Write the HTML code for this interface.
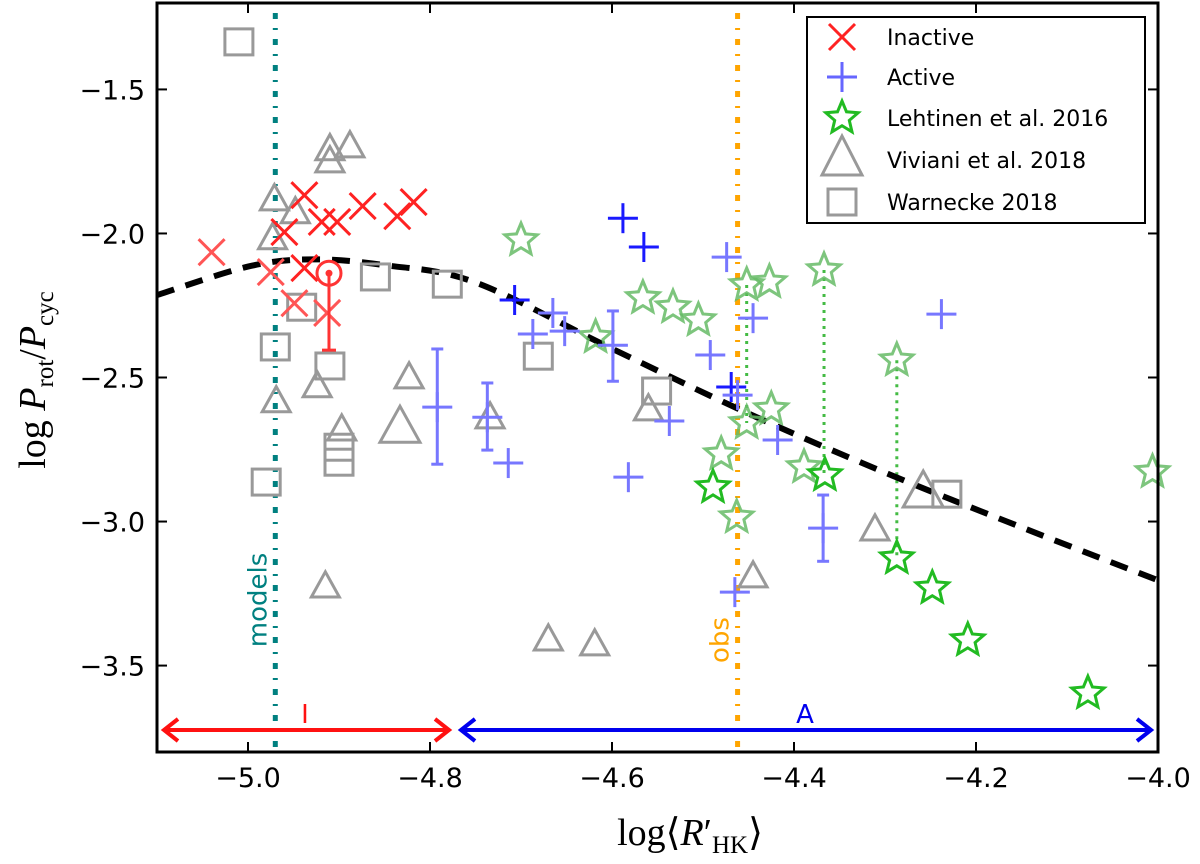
<!DOCTYPE html>
<html><head><meta charset="utf-8"><style>
body{margin:0;background:#fff}
svg{display:block;font-family:"DejaVu Sans","Liberation Sans",sans-serif}
</style></head><body>
<svg id="chart" width="1200" height="864" viewBox="0 0 1200 864">
<g id="marks"></g>
</svg>
<script>
const xMin=-5.1,xMax=-4.0,yMin=-3.8,yMax=-1.2;
const L=157,R=1158,T=3,B=752;
const xTicks=[-5.0,-4.8,-4.6,-4.4,-4.2,-4.0];
const xTickLabels=["\u22125.0","\u22124.8","\u22124.6","\u22124.4","\u22124.2","\u22124.0"];
const yTicks=[-1.5,-2.0,-2.5,-3.0,-3.5];
const yTickLabels=["\u22121.5","\u22122.0","\u22122.5","\u22123.0","\u22123.5"];
// Inactive
const inactX=[-5.040,-4.938,-4.960,-4.919,-4.902,-4.874,-4.836,-4.818,-4.975,-4.938,-4.949,-4.913];
const inactY=[-2.065,-1.867,-1.995,-1.960,-1.960,-1.905,-1.940,-1.891,-2.134,-2.120,-2.242,-2.276];
const inactLight=[1,0,0,0,0,0,0,0,1,0,1,1];
const sunX=-4.911,sunY=-2.138,sunErrLo=-2.405;
// Active
const actX=[-4.588,-4.565,-4.474,-4.707,-4.665,-4.687,-4.652,-4.599,-4.492,-4.238,-4.445,-4.469,-4.462,-4.537,-4.737,-4.714,-4.582,-4.418,-4.368,-4.465,-4.792];
const actY=[-1.947,-2.047,-2.082,-2.231,-2.276,-2.349,-2.339,-2.388,-2.422,-2.280,-2.294,-2.533,-2.561,-2.651,-2.638,-2.797,-2.846,-2.717,-3.023,-3.245,-2.603];
const actDark=[1,1,0,1,0,0,0,0,0,0,0,1,0,0,0,0,0,0,0,0,0];
const actErrLo=[null,null,null,null,null,null,null,-2.513,null,null,null,null,null,null,-2.752,null,null,null,-3.138,null,-2.801];
const actErrHi=[null,null,null,null,null,null,null,-2.269,null,null,null,null,null,null,-2.519,null,null,null,-2.908,null,-2.401];
// Lehtinen stars
const starX=[-4.700,-4.566,-4.533,-4.505,-4.618,-4.452,-4.427,-4.367,-4.287,-4.425,-4.452,-4.480,-4.489,-4.389,-4.366,-4.463,-4.287,-4.248,-4.209,-4.077,-4.006];
const starY=[-2.023,-2.224,-2.256,-2.301,-2.360,-2.179,-2.169,-2.127,-2.440,-2.610,-2.658,-2.766,-2.881,-2.811,-2.839,-2.985,-3.127,-3.231,-3.412,-3.596,-2.828];
const starBright=[0,0,0,0,0,0,0,0,0,0,0,0,1,0,1,0,1,1,1,1,0];
const starLinkTop=[-2.179,-2.127,-2.440];
const starLinkBot=[-2.658,-2.839,-3.127];
const starLinkX=[-4.452,-4.367,-4.287];
// Viviani triangles
const triX=[-4.910,-4.888,-4.910,-4.971,-4.948,-4.973,-4.924,-4.969,-4.897,-4.823,-4.833,-4.734,-4.915,-4.670,-4.619,-4.560,-4.258,-4.311,-4.445];
const triY=[-1.710,-1.700,-1.752,-1.884,-1.929,-2.019,-2.533,-2.585,-2.683,-2.502,-2.676,-2.641,-3.228,-3.412,-3.429,-2.613,-2.901,-3.030,-3.193];
const triBig=[0,0,0,0,0,0,0,0,0,0,1,0,0,0,0,0,1,0,0];
// Warnecke squares
const sqX=[-5.010,-4.860,-4.781,-4.941,-4.970,-4.910,-4.900,-4.900,-4.980,-4.681,-4.551,-4.232];
const sqY=[-1.335,-2.151,-2.176,-2.256,-2.394,-2.460,-2.742,-2.794,-2.863,-2.426,-2.547,-2.905];
// Fit curve
const fitX=[-5.1,-5.0,-4.93,-4.85,-4.75,-4.6,-4.45,-4.3,-4.15,-4.0];
const fitY=[-2.214,-2.115,-2.090,-2.110,-2.170,-2.400,-2.625,-2.830,-3.020,-3.204];
const modelsX=-4.970, obsX=-4.462;

const sx=v=>L+(v-xMin)/(xMax-xMin)*(R-L);
const sy=v=>T+(yMax-v)/(yMax-yMin)*(B-T);
const NS="http://www.w3.org/2000/svg";
const g=document.getElementById('marks');
function el(tag,attrs,parent){const e=document.createElementNS(NS,tag);for(const k in attrs)e.setAttribute(k,attrs[k]);(parent||g).appendChild(e);return e;}

let e;
e=el('line',{x1:sx(modelsX),x2:sx(modelsX),y1:T+10,y2:B,stroke:'#008080','stroke-width':5,'stroke-dasharray':'6,9,2,9'});


e=el('line',{x1:sx(obsX),x2:sx(obsX),y1:T+10,y2:B,stroke:'#ffa500','stroke-width':5,'stroke-dasharray':'6,9,2,9'});


e=el('text',{x:0,y:0,transform:`translate(${sx(modelsX)-9},600) rotate(-90)`,'text-anchor':'middle','font-size':26,fill:'#008080'});e.textContent='models';


e=el('text',{x:0,y:0,transform:`translate(${sx(obsX)-9},640) rotate(-90)`,'text-anchor':'middle','font-size':26,fill:'#ffa500'});e.textContent='obs';



for(let i=0;i<starLinkX.length;i++){
 e=el('line',{x1:sx(starLinkX[i]),x2:sx(starLinkX[i]),y1:sy(starLinkTop[i]),y2:sy(starLinkBot[i]),stroke:'#44bb44','stroke-width':3,'stroke-dasharray':'3,5'});
 
 
}

// smooth fit curve (Catmull-Rom)
const P=fitX.map((v,i)=>[sx(v),sy(fitY[i])]);
let d='M'+P[0][0]+','+P[0][1];
for(let i=0;i<P.length-1;i++){
 const p0=P[Math.max(i-1,0)],p1=P[i],p2=P[i+1],p3=P[Math.min(i+2,P.length-1)];
 const c1=[p1[0]+(p2[0]-p0[0])/6,p1[1]+(p2[1]-p0[1])/6];
 const c2=[p2[0]-(p3[0]-p1[0])/6,p2[1]-(p3[1]-p1[1])/6];
 d+=`C${c1[0]},${c1[1]} ${c2[0]},${c2[1]} ${p2[0]},${p2[1]}`;
}
e=el('path',{d:d,fill:'none',stroke:'#000','stroke-width':6,'stroke-dasharray':'18,12'});



for(let i=0;i<sqX.length;i++){
 const x=sx(sqX[i]),y=sy(sqY[i]);
 e=el('rect',{x:x-14,y:y-13,width:28,height:26,fill:'none',stroke:'#999','stroke-width':3});
 
 
}
for(let i=0;i<triX.length;i++){
 const x=sx(triX[i]),y=sy(triY[i]),s=triBig[i]?20:14;
 e=el('polygon',{points:`${x},${y-s*1.1} ${x-s},${y+s*0.7} ${x+s},${y+s*0.7}`,fill:'none',stroke:'#999','stroke-width':3});
 
 
}
function starPts(x,y,r){let p=[];for(let k=0;k<10;k++){const a=-Math.PI/2+k*Math.PI/5,rr=k%2?r*0.45:r;p.push((x+rr*Math.cos(a)).toFixed(1)+','+(y+rr*Math.sin(a)).toFixed(1));}return p.join(' ');}
for(let i=0;i<starX.length;i++){
 e=el('polygon',{points:starPts(sx(starX[i]),sy(starY[i]),17),fill:'none',stroke:starBright[i]?'#22bb22':'#66bb66','stroke-width':3,'stroke-opacity':starBright[i]?1:0.85});
 
 
}
for(let i=0;i<actX.length;i++){
 const x=sx(actX[i]),y=sy(actY[i]),c=actDark[i]?'#1a1aff':'#7777ff';
 const grp=el('g',{stroke:c,'stroke-width':3});
 
 
 el('line',{x1:x-15,x2:x+15,y1:y,y2:y},grp);
 el('line',{x1:x,x2:x,y1:y-15,y2:y+15},grp);
 if(actErrLo[i]!==null){
  const y1=sy(actErrHi[i]),y2=sy(actErrLo[i]);
  el('line',{x1:x,x2:x,y1:y1,y2:y2},grp);
  el('line',{x1:x-6,x2:x+6,y1:y1,y2:y1},grp);
  el('line',{x1:x-6,x2:x+6,y1:y2,y2:y2},grp);
 }
}
for(let i=0;i<inactX.length;i++){
 const x=sx(inactX[i]),y=sy(inactY[i]),c=inactLight[i]?'#ff5555':'#ff2222';
 const grp=el('g',{stroke:c,'stroke-width':3});
 
 
 el('line',{x1:x-13,x2:x+13,y1:y-13,y2:y+13},grp);
 el('line',{x1:x-13,x2:x+13,y1:y+13,y2:y-13},grp);
}
{const x=sx(sunX),y=sy(sunY),y2=sy(sunErrLo);
 const grp=el('g',{stroke:'#ff3333','stroke-width':3,fill:'none'});
 
 
 el('circle',{cx:x,cy:y,r:12},grp);
 el('circle',{cx:x,cy:y,r:2,fill:'#ff3333'},grp);
 el('line',{x1:x,x2:x,y1:y,y2:y2},grp);
 el('line',{x1:x-7,x2:x+7,y1:y2,y2:y2},grp);
}

function arrow(x1,x2,y,c,name){
 const grp=el('g',{stroke:c,'stroke-width':4,fill:'none'});
 
 
 el('line',{x1:x1,x2:x2,y1:y,y2:y},grp);
 el('polyline',{points:`${x1+14},${y-11} ${x1},${y} ${x1+14},${y+11}`},grp);
 el('polyline',{points:`${x2-14},${y-11} ${x2},${y} ${x2-14},${y+11}`},grp);
}
arrow(164,449,730,'#ff1111','inactive-arrow');
arrow(461,1151,730,'#0000ee','active-arrow');
e=el('text',{x:305,y:723,'text-anchor':'middle','font-size':26,fill:'#ff1111'});e.textContent='I';


e=el('text',{x:805,y:723,'text-anchor':'middle','font-size':26,fill:'#0000ee'});e.textContent='A';



e=el('rect',{x:L,y:T,width:R-L,height:B-T,fill:'none',stroke:'#000','stroke-width':3});


for(let i=0;i<xTicks.length;i++){
 const x=sx(xTicks[i]);
 el('line',{x1:x,x2:x,y1:B,y2:B-10,stroke:'#000','stroke-width':2});
 el('line',{x1:x,x2:x,y1:T,y2:T+10,stroke:'#000','stroke-width':2});
 e=el('text',{x:x,y:B+35,'text-anchor':'middle','font-size':27,fill:'#000'});e.textContent=xTickLabels[i];
 
 
}
for(let i=0;i<yTicks.length;i++){
 const y=sy(yTicks[i]);
 el('line',{x1:L,x2:L+10,y1:y,y2:y,stroke:'#000','stroke-width':2});
 el('line',{x1:R,x2:R-10,y1:y,y2:y,stroke:'#000','stroke-width':2});
 e=el('text',{x:L-12,y:y+10,'text-anchor':'end','font-size':27,fill:'#000'});e.textContent=yTickLabels[i];
 
 
}
e=el('text',{x:0,y:0,transform:'translate(45,380) rotate(-90)','text-anchor':'middle','font-size':38,'font-family':'Liberation Serif,serif',fill:'#000'});
e.innerHTML='log<tspan font-style="italic"> P</tspan><tspan font-size="25" dy="8">rot</tspan><tspan dy="-8">/</tspan><tspan font-style="italic">P</tspan><tspan font-size="25" dy="8">cyc</tspan>';


e=el('text',{x:690,y:845,'text-anchor':'middle','font-size':38,'font-family':'Liberation Serif,serif',fill:'#000'});
e.innerHTML='log⟨<tspan font-style="italic">R</tspan>′<tspan font-size="25" dy="8">HK</tspan><tspan dy="-8">⟩</tspan>';



const leg=el('g',{});


el('rect',{x:807,y:17,width:338,height:206,fill:'#fff',stroke:'#000','stroke-width':2},leg);
const legLabels=['Inactive','Active','Lehtinen et al. 2016','Viviani et al. 2018','Warnecke 2018'];
const legY=[37,77,118,160,202];
const mx=842;
let lg;
lg=el('g',{stroke:'#ff2222','stroke-width':3},leg);
el('line',{x1:mx-13,x2:mx+13,y1:legY[0]-13,y2:legY[0]+13},lg);el('line',{x1:mx-13,x2:mx+13,y1:legY[0]+13,y2:legY[0]-13},lg);
lg=el('g',{stroke:'#6666ff','stroke-width':3},leg);
el('line',{x1:mx-15,x2:mx+15,y1:legY[1],y2:legY[1]},lg);el('line',{x1:mx,x2:mx,y1:legY[1]-15,y2:legY[1]+15},lg);
el('polygon',{points:starPts(mx,legY[2],17),fill:'none',stroke:'#22bb22','stroke-width':3},leg);
el('polygon',{points:`${mx},${legY[3]-24} ${mx-20},${legY[3]+15} ${mx+20},${legY[3]+15}`,fill:'none',stroke:'#999','stroke-width':3},leg);
el('rect',{x:mx-14,y:legY[4]-13,width:28,height:26,fill:'none',stroke:'#999','stroke-width':3},leg);
for(let i=0;i<legLabels.length;i++){
 e=el('text',{x:887,y:legY[i]+8,'font-size':22,fill:'#000'},leg);e.textContent=legLabels[i];
 
 
}
</script>
</body></html>
